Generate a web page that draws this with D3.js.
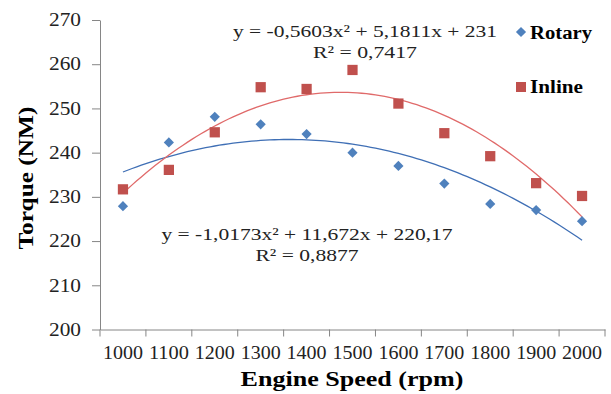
<!DOCTYPE html>
<html>
<head>
<meta charset="utf-8">
<script src="https://cdn.jsdelivr.net/npm/d3@7"></script>
<style>
  body { margin: 0; background: #fff; }
  text { font-family: "Liberation Serif", "Times New Roman", serif; }
</style>
</head>
<body>
<svg id="chart" width="611" height="394"></svg>
<script>
let speeds = [1000, 1100, 1200, 1300, 1400, 1500, 1600, 1700, 1800, 1900, 2000];
let rotary = [227.9, 242.3, 248.1, 246.4, 244.2, 240.0, 237.0, 233.0, 228.4, 227.0, 224.5];
let inline = [231.7, 236.1, 244.6, 254.8, 254.4, 258.7, 251.1, 244.4, 239.2, 233.1, 230.2];
let yTicks = [200, 210, 220, 230, 240, 250, 260, 270];
// trendline coefficients as printed on the chart (x = category index 1..11)
let rotaryFit = [-0.5603, 5.1811, 231];
let inlineFit = [-1.0173, 11.672, 220.17];
let rotaryLabel = ["y = -0,5603x² + 5,1811x + 231", "R² = 0,7417"];
let inlineLabel = ["y = -1,0173x² + 11,672x + 220,17", "R² = 0,8877"];

let svg = d3.select("#chart");
let plotLeft = 100, plotRight = 605, plotTop = 20, plotBottom = 329.5;
let axisColor = "#868686";
let textColor = "#222";

let x = d3.scaleBand().domain(speeds).range([plotLeft, plotRight]).padding(0);
let y = d3.scaleLinear().domain([200, 270]).range([plotBottom, plotTop]);
let cx = (d) => x(d) + x.bandwidth() / 2;

// the source picture is a bit stretched sideways, so widths are fixed
let stretch = (sel, w) => sel.attr("textLength", w).attr("lengthAdjust", "spacingAndGlyphs");

// y axis
let yAxis = svg.append("g")
    .attr("transform", `translate(${plotLeft},0)`)
    .call(d3.axisLeft(y).tickValues(yTicks).tickSize(8).tickSizeOuter(0).tickPadding(11));
yAxis.selectAll("text")
    .style("font-size", "18px")
    .attr("fill", textColor)
    .attr("font-family", "Liberation Serif")
    .call(stretch, 32);

// x axis (labels centered in categories, ticks on category edges)
let xAxis = svg.append("g")
    .attr("transform", `translate(0,${plotBottom})`)
    .call(d3.axisBottom(x).tickSize(0).tickSizeOuter(0).tickPadding(17));
xAxis.selectAll("text")
    .style("font-size", "18px")
    .attr("fill", textColor)
    .attr("font-family", "Liberation Serif")
    .call(stretch, 40);
xAxis.selectAll("line.edge")
    .data(speeds.concat([null]))
    .enter()
    .append("line")
    .attr("class", "edge")
    .attr("x1", (d) => d === null ? plotRight : x(d))
    .attr("x2", (d) => d === null ? plotRight : x(d))
    .attr("y1", 0)
    .attr("y2", 7)
    .attr("stroke", axisColor);
svg.selectAll(".domain, .tick line").attr("stroke", axisColor);

// axis titles
svg.append("text")
   .attr("x", 352)
   .attr("y", 386)
   .attr("text-anchor", "middle")
   .style("font-size", "20px")
   .style("font-weight", "bold")
   .call(stretch, 223)
   .text("Engine Speed (rpm)");
svg.append("text")
   .attr("transform", `translate(33,178) rotate(-90)`)
   .attr("text-anchor", "middle")
   .style("font-size", "20px")
   .style("font-weight", "bold")
   .call(stretch, 143)
   .text("Torque (NM)");

// trendlines
let steps = d3.range(1, 11.001, 0.1);
let trend = (coef) => d3.line()
    .x((t) => plotLeft + (t - 0.5) * x.bandwidth())
    .y((t) => y(coef[0] * t * t + coef[1] * t + coef[2]))(steps);

svg.append("path")
   .attr("d", trend(rotaryFit))
   .attr("fill", "none")
   .attr("stroke", "#3f6fb5")
   .attr("stroke-width", 1.3);
svg.append("path")
   .attr("d", trend(inlineFit))
   .attr("fill", "none")
   .attr("stroke", "#e06a6a")
   .attr("stroke-width", 1.3);

// markers
svg.selectAll("path.rotary")
   .data(rotary)
   .enter()
   .append("path")
   .attr("class", "rotary")
   .attr("d", d3.symbol(d3.symbolSquare, 52))
   .attr("transform", (d, i) => `translate(${cx(speeds[i])},${y(d)}) rotate(45)`)
   .attr("fill", "#4f81bd");
svg.selectAll("path.inline")
   .data(inline)
   .enter()
   .append("path")
   .attr("class", "inline")
   .attr("d", d3.symbol(d3.symbolSquare, 105))
   .attr("transform", (d, i) => `translate(${cx(speeds[i])},${y(d)})`)
   .attr("fill", "#c0504d");

// equation labels
let eq = (lines, cxPos, y0, w0, w1) => {
    svg.append("text")
       .attr("x", cxPos).attr("y", y0)
       .attr("text-anchor", "middle")
       .style("font-size", "17px")
       .attr("fill", textColor)
       .call(stretch, w0)
       .text(lines[0]);
    svg.append("text")
       .attr("x", cxPos).attr("y", y0 + 21)
       .attr("text-anchor", "middle")
       .style("font-size", "17px")
       .attr("fill", textColor)
       .call(stretch, w1)
       .text(lines[1]);
};
eq(rotaryLabel, 365, 37, 264, 104);
eq(inlineLabel, 307, 240, 291, 103);

// legend
let legend = svg.append("g").attr("id", "legend");
legend.append("path")
      .attr("d", d3.symbol(d3.symbolSquare, 52))
      .attr("transform", "translate(521,32) rotate(45)")
      .attr("fill", "#4f81bd");
legend.append("text")
      .attr("x", 530).attr("y", 39)
      .style("font-size", "18px").style("font-weight", "bold")
      .call(stretch, 62)
      .text("Rotary");
legend.append("path")
      .attr("d", d3.symbol(d3.symbolSquare, 100))
      .attr("transform", "translate(521,87)")
      .attr("fill", "#c0504d");
legend.append("text")
      .attr("x", 530).attr("y", 93)
      .style("font-size", "18px").style("font-weight", "bold")
      .call(stretch, 53)
      .text("Inline");
</script>
</body>
</html>
